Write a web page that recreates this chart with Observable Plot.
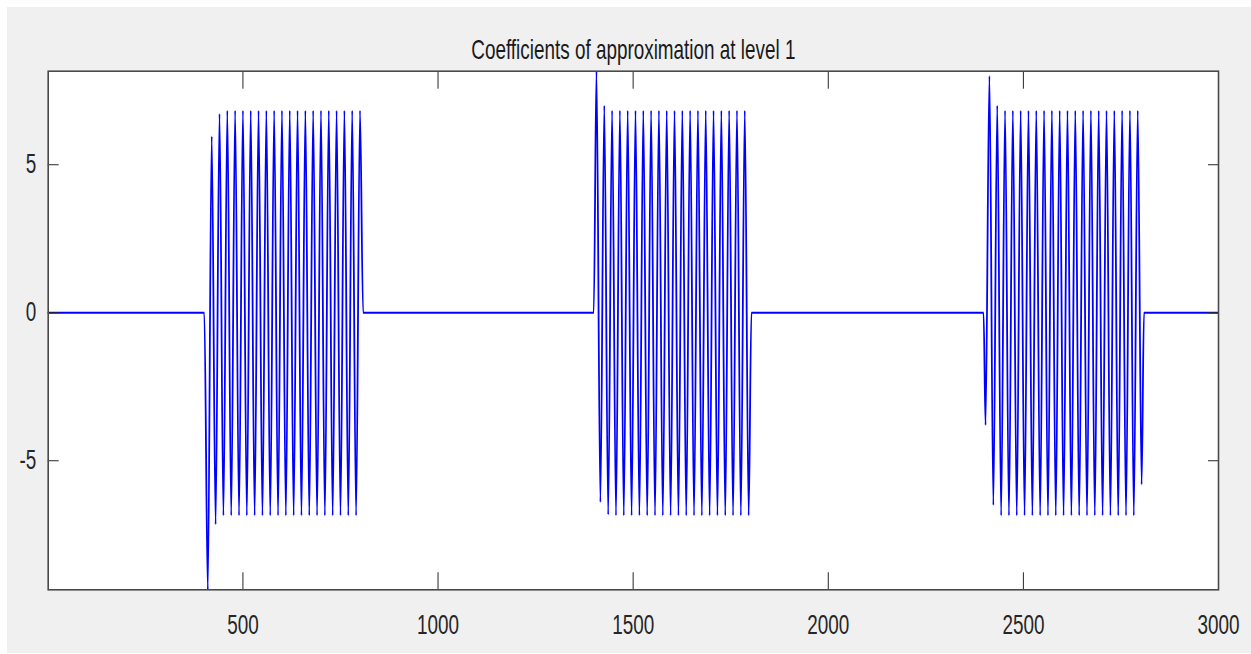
<!DOCTYPE html>
<html>
<head>
<meta charset="utf-8">
<script src="https://cdn.jsdelivr.net/npm/d3@7"></script>
<script src="https://cdn.jsdelivr.net/npm/@observablehq/plot@0.6"></script>
<style>
  html, body { margin: 0; padding: 0; background: #ffffff; width: 1251px; height: 654px; overflow: hidden; }
  #fig { position: absolute; left: 7px; top: 7px; width: 1244px; height: 646px; background: #f0f0f0; }
  #chart { position: absolute; left: 0; top: 0; width: 1251px; height: 654px; }
</style>
</head>
<body>
<div id="fig"></div>
<div id="chart"></div>
<script>
// ---- chart text and axes ----
const title = "Coefficients of approximation at level 1";
const xDomain = [1, 3000];
const yDomain = [-9.36, 8.16];
const xTicks = [500, 1000, 1500, 2000, 2500, 3000];
const yTicks = [-5, 0, 5];
const xTickLabels = ["500", "1000", "1500", "2000", "2500", "3000"];
const yTickLabels = ["-5", "0", "5"];

// ---- signal vertices (sample index, coefficient value) ----
const startIdx = [1];
const startVal = [0];

const burst1Idx = [401, 410, 420, 430, 440, 450, 460, 470, 480, 490, 500, 510, 520, 530, 540, 550, 560, 570, 580, 590,
  600, 610, 620, 630, 640, 650, 660, 670, 680, 690, 700, 710, 720, 730, 740, 750, 760, 770, 780, 790, 800, 808];
const burst1Val = [0, -9.36, 5.96, -7.15, 6.72, -6.85, 6.83, -6.85, 6.83, -6.85, 6.83, -6.85, 6.83, -6.85, 6.83, -6.85, 6.83, -6.85, 6.83, -6.85,
  6.83, -6.85, 6.83, -6.85, 6.83, -6.85, 6.83, -6.85, 6.83, -6.85, 6.83, -6.85, 6.83, -6.85, 6.83, -6.85, 6.83, -6.85, 6.83, -6.85, 6.83, 0];

const burst2Idx = [1399, 1406, 1416, 1426, 1436, 1446, 1456, 1466, 1476, 1486, 1496, 1506, 1516, 1526, 1536, 1546, 1556, 1566, 1576, 1586,
  1596, 1606, 1616, 1626, 1636, 1646, 1656, 1666, 1676, 1686, 1696, 1706, 1716, 1726, 1736, 1746, 1756, 1766, 1776, 1786, 1796, 1803];
const burst2Val = [0, 8.16, -6.4, 7.0, -6.82, 6.83, -6.85, 6.83, -6.85, 6.83, -6.85, 6.83, -6.85, 6.83, -6.85, 6.83, -6.85, 6.83, -6.85, 6.83,
  -6.85, 6.83, -6.85, 6.83, -6.85, 6.83, -6.85, 6.83, -6.85, 6.83, -6.85, 6.83, -6.85, 6.83, -6.85, 6.83, -6.85, 6.83, -6.85, 6.83, -6.85, 0];

const burst3Idx = [2398, 2403, 2413, 2423, 2433, 2443, 2453, 2463, 2473, 2483, 2493, 2503, 2513, 2523, 2533, 2543, 2553, 2563, 2573, 2583,
  2593, 2603, 2613, 2623, 2633, 2643, 2653, 2663, 2673, 2683, 2693, 2703, 2713, 2723, 2733, 2743, 2753, 2763, 2773, 2783, 2793, 2803, 2809];
const burst3Val = [0, -3.8, 8.0, -6.5, 7.0, -6.85, 6.83, -6.85, 6.83, -6.85, 6.83, -6.85, 6.83, -6.85, 6.83, -6.85, 6.83, -6.85, 6.83, -6.85,
  6.83, -6.85, 6.83, -6.85, 6.83, -6.85, 6.83, -6.85, 6.83, -6.85, 6.83, -6.85, 6.83, -6.85, 6.83, -6.85, 6.83, -6.85, 6.83, -6.85, 6.83, -5.8, 0];

const endIdx = [3000];
const endVal = [0];

// ---- build table ----
const rows = [];
[[startIdx, startVal], [burst1Idx, burst1Val], [burst2Idx, burst2Val], [burst3Idx, burst3Val], [endIdx, endVal]]
  .forEach(([idx, val]) => idx.forEach((x, k) => rows.push({x, y: val[k]})));

const FONT = "'Liberation Sans', Arial, Helvetica, sans-serif";
const ink = "#262626";
const xFmt = (d) => xTickLabels[xTicks.indexOf(d)];
const yFmt = (d) => yTickLabels[yTicks.indexOf(d)];

const chart = Plot.plot({
  width: 1251,
  height: 654,
  marginLeft: 47.7,
  marginRight: 33,
  marginTop: 70.7,
  marginBottom: 64.7,
  style: {background: "transparent", fontFamily: FONT, overflow: "visible"},
  x: {domain: xDomain},
  y: {domain: yDomain},
  marks: [
    Plot.frame({fill: "white", stroke: null}),
    Plot.line(rows, {x: "x", y: "y", stroke: "#0000ff", strokeWidth: 1.8, curve: "monotone-x", clip: true}),
    // inward tick marks on all four sides
    Plot.axisX({ticks: xTicks, anchor: "bottom", tickSize: 17, dy: -17, fill: "none", label: null, stroke: ink}),
    Plot.axisX({ticks: xTicks, anchor: "top", tickSize: 17, dy: 17, fill: "none", label: null, stroke: ink}),
    Plot.axisY({ticks: yTicks, anchor: "left", tickSize: 11, dx: 11, fill: "none", label: null, stroke: ink}),
    Plot.axisY({ticks: yTicks, anchor: "right", tickSize: 11, dx: -11, fill: "none", label: null, stroke: ink}),
    // tick labels
    Plot.axisX({ticks: xTicks, tickFormat: xFmt, anchor: "bottom", tickSize: 0, tickPadding: 25, fontSize: 27, fill: ink, label: null}),
    Plot.axisY({ticks: yTicks, tickFormat: yFmt, anchor: "left", tickSize: 0, tickPadding: 12, fontSize: 27, fill: ink, label: null}),
    Plot.frame({stroke: "#4a4a4a", strokeWidth: 1.6}),
    Plot.text([title], {frameAnchor: "top", dy: -12, lineAnchor: "bottom", fontSize: 27, fill: "#1a1a1a"})
  ]
});

document.getElementById("chart").appendChild(chart);

// narrow (condensed) lettering like the reference: wrap each text in a group that
// squeezes it horizontally around its own anchor point
const SX = 0.7;
d3.select(chart).selectAll("text").each(function () {
  const el = this;
  const bb = el.getBBox();
  const tl = el.transform && el.transform.baseVal;
  const m = tl && tl.numberOfItems ? tl.consolidate().matrix : {e: 0};
  const x0 = bb.x + m.e, x1 = bb.x + bb.width + m.e;
  let anchor = el.getAttribute("text-anchor") || (el.parentNode && el.parentNode.getAttribute && el.parentNode.getAttribute("text-anchor")) || "middle";
  const px = anchor === "end" ? x1 : anchor === "start" ? x0 : (x0 + x1) / 2;
  const g = document.createElementNS("http://www.w3.org/2000/svg", "g");
  g.setAttribute("transform", `translate(${px},0) scale(${SX},1) translate(${-px},0)`);
  el.parentNode.insertBefore(g, el);
  g.appendChild(el);
});
</script>
</body>
</html>
